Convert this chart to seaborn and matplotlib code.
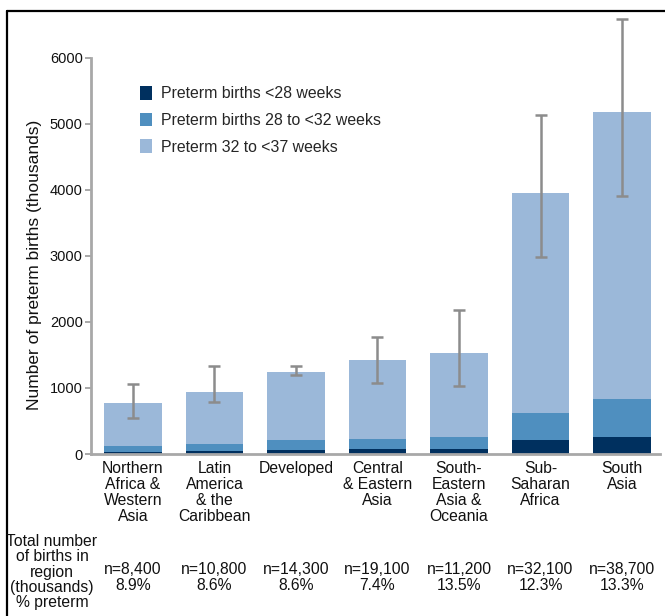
import matplotlib
matplotlib.use("Agg")
import matplotlib.pyplot as plt
import matplotlib.transforms as mtransforms
from matplotlib.lines import Line2D
from matplotlib.patches import Patch
import numpy as np
import seaborn as sns

# Preterm births by region (thousands)
regions = ["Northern\nAfrica &\nWestern\nAsia", "Latin\nAmerica\n& the\nCaribbean", "Developed",
           "Central\n& Eastern\nAsia", "South-\nEastern\nAsia &\nOceania", "Sub-\nSaharan\nAfrica",
           "South\nAsia"]
under_28 = [30, 45, 65, 75, 80, 210, 258]
wk_28_32 = [90, 105, 145, 152, 178, 410, 575]
wk_32_37 = [650, 790, 1035, 1193, 1272, 3335, 4347]
err_low = [545, 790, 1200, 1076, 1030, 2985, 3909]
err_high = [1060, 1333, 1333, 1773, 2180, 5136, 6590]
births_n = ["n=8,400", "n=10,800", "n=14,300", "n=19,100", "n=11,200", "n=32,100", "n=38,700"]
pct_preterm = ["8.9%", "8.6%", "8.6%", "7.4%", "13.5%", "12.3%", "13.3%"]
y_ticks = [0, 1000, 2000, 3000, 4000, 5000, 6000]

c_dark = "#00305f"
c_mid = "#4f8fbf"
c_light = "#9bb8d9"
c_axis = "#a8a8a8"
c_err = "#8c8c8c"
c_text = "#111111"

sns.set_style("white")
plt.rcParams["font.family"] = ["Liberation Sans", "DejaVu Sans"]

fig = plt.figure(figsize=(6.65, 6.16), dpi=100)
ax = fig.add_axes([91 / 665, 1 - 454 / 616, (660 - 91) / 665, (454 - 18) / 616])

lvl1 = np.array(under_28)
lvl2 = lvl1 + np.array(wk_28_32)
lvl3 = lvl2 + np.array(wk_32_37)
xpos = np.arange(len(regions))

# stacked bars drawn as overlapping layers, tallest first
sns.barplot(x=xpos, y=lvl3, color=c_light, saturation=1, width=0.71, ax=ax, linewidth=0)
sns.barplot(x=xpos, y=lvl2, color=c_mid, saturation=1, width=0.71, ax=ax, linewidth=0)
sns.barplot(x=xpos, y=lvl1, color=c_dark, saturation=1, width=0.71, ax=ax, linewidth=0)

# uncertainty ranges
mid = (np.array(err_low) + np.array(err_high)) / 2
half = (np.array(err_high) - np.array(err_low)) / 2
ax.errorbar(xpos, mid, yerr=half, fmt="none", ecolor=c_err, elinewidth=1.8,
            capsize=4, capthick=1.8, zorder=5)

ax.set_xlim(-0.515, 6.466)
ax.set_ylim(0, 6600)
ax.set_yticks(y_ticks)
ax.set_yticklabels([str(v) for v in y_ticks], fontsize=10.5, color=c_text)
ax.set_xticks(xpos)
ax.set_xticklabels(regions, fontsize=11.3, color=c_text, linespacing=1.08)
ax.tick_params(axis="x", length=0, pad=5)
ax.tick_params(axis="y", length=4, width=1.4, color=c_axis, pad=2, direction="out", left=True)
for s in ["top", "right"]:
    ax.spines[s].set_visible(False)
for s in ["left", "bottom"]:
    ax.spines[s].set_color(c_axis)
    ax.spines[s].set_linewidth(2)
ax.spines["left"].set_bounds(0, 6000)
ax.set_xlabel("")
ax.set_ylabel("")
ax.grid(False)

fig.text(35 / 665, 1 - 265 / 616, "Number of preterm births (thousands)", rotation=90,
         ha="center", va="center", fontsize=12.5, color=c_text)

handles = [Patch(facecolor=c_dark, edgecolor="none"),
           Patch(facecolor=c_mid, edgecolor="none"),
           Patch(facecolor=c_light, edgecolor="none")]
labels = ["Preterm births <28 weeks", "Preterm births 28 to <32 weeks", "Preterm 32 to <37 weeks"]
ax.legend(handles, labels, loc="upper left", bbox_to_anchor=(140 / 665, 1 - 86 / 616),
          bbox_transform=fig.transFigure, frameon=False, fontsize=11.4,
          handlelength=0.75, handleheight=0.95, handletextpad=0.55, labelspacing=0.72,
          borderpad=0, borderaxespad=0)

# row of totals beneath the categories
fig.text(52 / 665, 1 - 572 / 616, "Total number\nof births in\nregion\n(thousands)\n% preterm",
         ha="center", va="center", multialignment="center", fontsize=11.3,
         linespacing=1.04, color=c_text)
tr = mtransforms.blended_transform_factory(ax.transData, fig.transFigure)
for i in range(len(regions)):
    ax.text(xpos[i], 1 - 569 / 616, births_n[i], transform=tr, ha="center", va="center",
            fontsize=11.3, color=c_text)
    ax.text(xpos[i], 1 - 586 / 616, pct_preterm[i], transform=tr, ha="center", va="center",
            fontsize=11.3, color=c_text)

# frame lines along top and left edge
fig.add_artist(Line2D([7 / 665, 1], [1 - 11 / 616, 1 - 11 / 616], transform=fig.transFigure,
                      color="black", linewidth=1.6))
fig.add_artist(Line2D([7 / 665, 7 / 665], [0, 1 - 11 / 616], transform=fig.transFigure,
                      color="black", linewidth=1.6))

fig.savefig("out.png", dpi=100)
